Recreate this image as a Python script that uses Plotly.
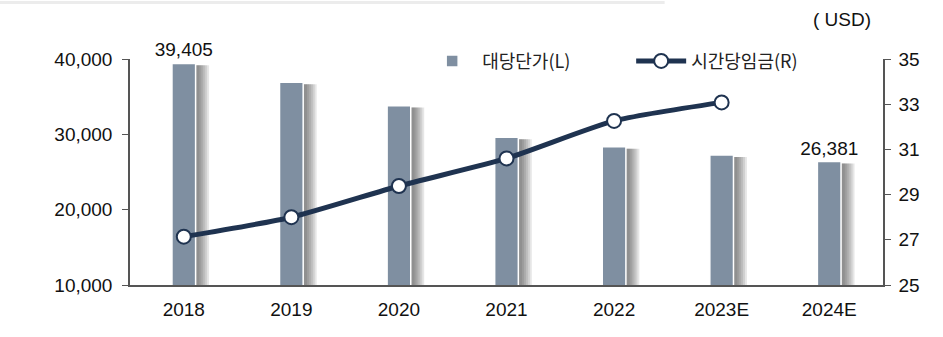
import plotly.graph_objects as go

years = ["2018", "2019", "2020", "2021", "2022", "2023E", "2024E"]
unit_price = [39405, 36900, 33800, 29600, 28350, 27250, 26381]
hourly_wage = [27.14, 28.0, 29.38, 30.6, 32.26, 33.08, None]
label_idx = [0, 6]

bar_color = "#7f8fa1"
line_color = "#1f3350"
latin = "Liberation Sans, Arial, sans-serif"
kr = "Noto Sans CJK KR, sans-serif"
fs = 19

labels = [f"{v:,}" if i in label_idx else "" for i, v in enumerate(unit_price)]

fig = go.Figure()
# soft shadow of bars
for k in range(6):
    fig.add_trace(go.Bar(
        x=years, y=[v - 250 for v in unit_price], width=0.22,
        offset=-0.11 + 0.125 - k * 0.018,
        marker=dict(color="rgba(60,60,60,0.13)", line=dict(width=0)),
        showlegend=False, hoverinfo="skip"))
fig.add_trace(go.Bar(
    x=years, y=unit_price, width=0.22, offset=-0.11, name="대당단가(L)",
    marker=dict(color=bar_color, line=dict(color="white", width=1.5)),
    text=labels, textposition="outside", cliponaxis=False, constraintext="none",
    textfont=dict(family=latin, size=fs, color="#111111")))
fig.add_trace(go.Scatter(
    x=years, y=hourly_wage, name="시간당임금(R)", yaxis="y2",
    mode="lines+markers", line=dict(color=line_color, width=5, shape="spline", smoothing=0.6),
    marker=dict(size=14, color="white", line=dict(color=line_color, width=2))))

fig.update_layout(
    width=943, height=337, barmode="overlay",
    margin=dict(l=130, r=60, t=59, b=52, autoexpand=False),
    paper_bgcolor="white", plot_bgcolor="white",
    font=dict(family=latin, size=fs, color="#111111"),
    xaxis=dict(showline=True, linecolor="#555555", linewidth=2, ticks="", showgrid=False,
               tickfont=dict(family=latin, size=fs), ticklabelstandoff=6),
    yaxis=dict(range=[10000, 40000], dtick=10000, tickformat=",", showgrid=False,
               showline=True, linecolor="#555555", linewidth=1.5, ticks="outside",
               ticklen=6, tickcolor="#555555", tickfont=dict(family=latin, size=fs),
               ticklabelstandoff=6, zeroline=False),
    yaxis2=dict(range=[25, 35], dtick=2, tick0=25, overlaying="y", side="right", showgrid=False,
                showline=True, linecolor="#555555", linewidth=1.5, ticks="outside",
                ticklen=6, tickcolor="#555555", tickfont=dict(family=latin, size=fs),
                ticklabelstandoff=4, zeroline=False),
    legend=dict(orientation="h", x=0.388, y=0.99, xanchor="left", yanchor="middle",
                bgcolor="rgba(0,0,0,0)", font=dict(family=kr, size=18, color="#222222"),
                entrywidth=144, itemwidth=50),
    annotations=[dict(text="( USD)", x=0.945, y=1.173, xref="paper", yref="paper",
                      xanchor="center", yanchor="middle",
                      showarrow=False, font=dict(family=latin, size=fs, color="#111111"))],
    shapes=[dict(type="line", xref="paper", yref="paper", x0=-0.173, x1=0.71, y0=1.25, y1=1.25,
                 line=dict(color="#ececec", width=3))],
)

fig.write_html("out.html")
